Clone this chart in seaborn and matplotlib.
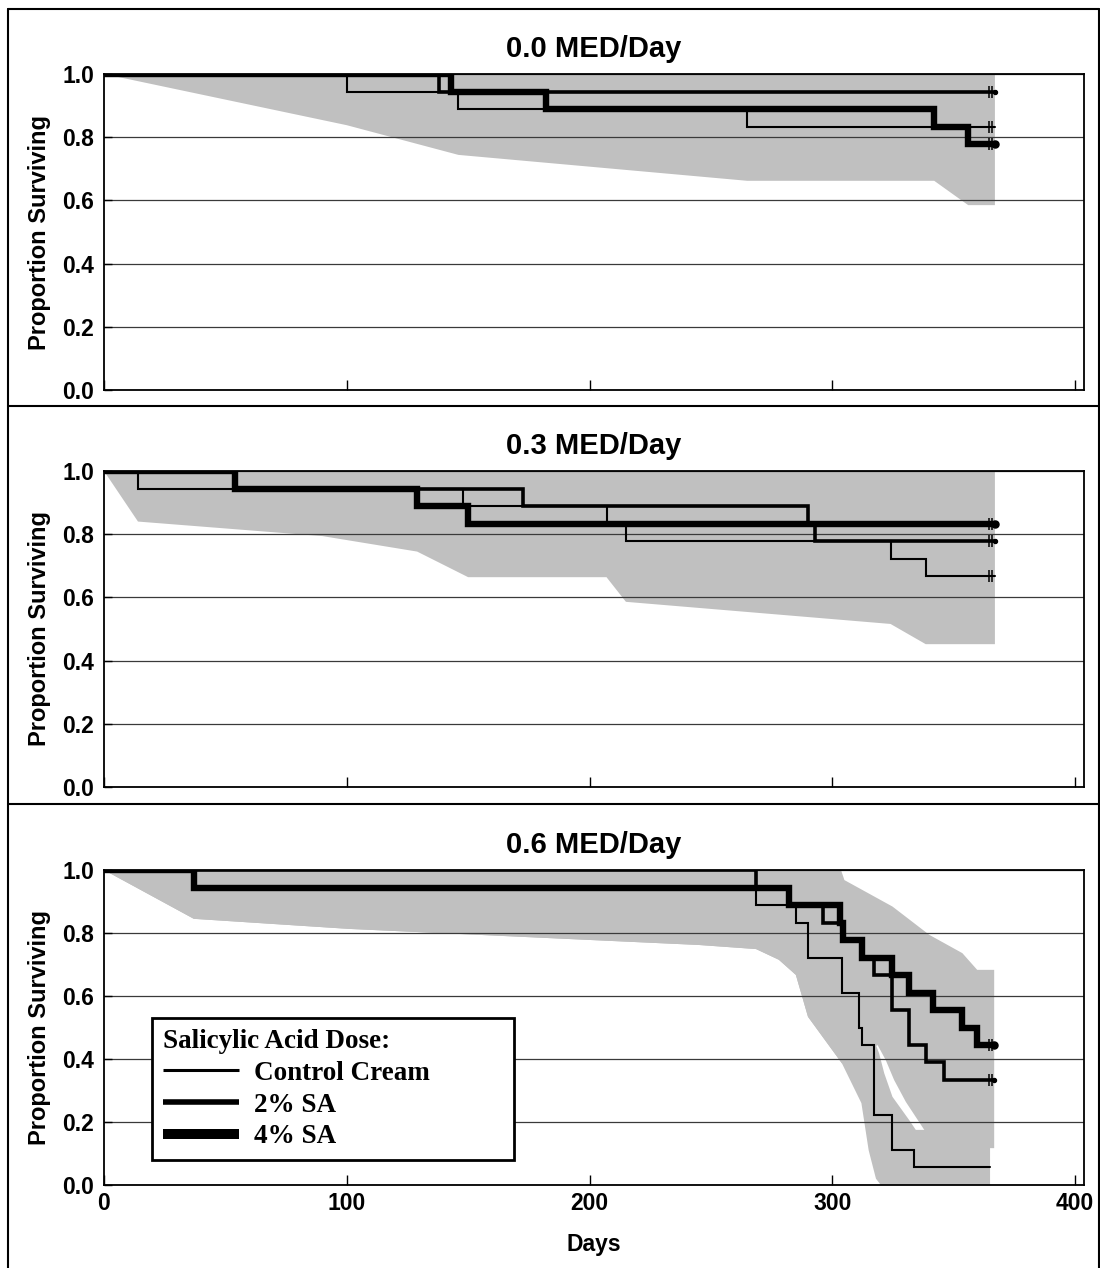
import numpy as np
import pandas as pd
import matplotlib
matplotlib.use("Agg")
import matplotlib.pyplot as plt
import seaborn as sns
from matplotlib.lines import Line2D

# ------------------------------------------------------------------ data
panel_titles = ["0.0 MED/Day", "0.3 MED/Day", "0.6 MED/Day"]
group_names = ["Control Cream", "2% SA", "4% SA"]
x_ticks = [0, 100, 200, 300, 400]
y_ticks = [0.0, 0.2, 0.4, 0.6, 0.8, 1.0]

# Kaplan-Meier step curves (day of step, survival after step)
p1_ctrl_days = [0, 100, 146, 265, 367]
p1_ctrl_surv = [1.0, 0.944, 0.889, 0.833, 0.833]
p1_sa2_days = [0, 138, 367]
p1_sa2_surv = [1.0, 0.944, 0.944]
p1_sa4_days = [0, 143, 182, 342, 356, 367]
p1_sa4_surv = [1.0, 0.944, 0.889, 0.833, 0.778, 0.778]

p2_ctrl_days = [0, 14, 148, 207, 215, 324, 338.5, 367]
p2_ctrl_surv = [1.0, 0.944, 0.889, 0.833, 0.778, 0.722, 0.667, 0.667]
p2_sa2_days = [0, 54, 172.5, 290, 293, 367]
p2_sa2_surv = [1.0, 0.944, 0.889, 0.833, 0.778, 0.778]
p2_sa4_days = [0, 54, 129, 150, 367]
p2_sa4_surv = [1.0, 0.944, 0.889, 0.833, 0.833]

p3_ctrl_days = [0, 268.6, 285, 290, 304, 311, 312.4, 317.3, 324.8, 333.7, 365]
p3_ctrl_surv = [1.0, 0.889, 0.833, 0.722, 0.611, 0.5, 0.444, 0.222, 0.111, 0.056, 0.056]
p3_sa2_days = [0, 268.6, 282, 296, 304.5, 312.4, 317.3, 324.8, 331.7, 338.5, 346, 366.6]
p3_sa2_surv = [1.0, 0.944, 0.889, 0.833, 0.778, 0.722, 0.667, 0.556, 0.444, 0.389, 0.333, 0.333]
p3_sa4_days = [0, 37, 282, 303, 304.5, 312.4, 324.8, 331.7, 341.3, 353.6, 359.7, 366.6]
p3_sa4_surv = [1.0, 0.944, 0.889, 0.833, 0.778, 0.722, 0.667, 0.611, 0.556, 0.5, 0.444, 0.444]

# censoring ticks near the end of follow-up
censor_days = [364.6, 366.0]

# confidence bands (lower edge / upper edge polylines)
p1_band_low_days = [0, 100, 146, 265, 342, 356, 367]
p1_band_low = [1.0, 0.838, 0.744, 0.662, 0.662, 0.585, 0.585]
p1_band_up_days = [0, 367]
p1_band_up = [1.0, 1.0]

p2_band_low_days = [0, 14, 90, 129, 150, 207, 215, 324, 338.5, 367]
p2_band_low = [1.0, 0.84, 0.794, 0.745, 0.664, 0.664, 0.586, 0.516, 0.452, 0.452]
p2_band_up_days = [0, 367]
p2_band_up = [1.0, 1.0]

p3a_band_low_days = [0, 37, 101, 245, 268.6, 278, 285, 290, 304, 312, 315, 318, 320, 365]
p3a_band_low = [1.0, 0.845, 0.813, 0.762, 0.749, 0.715, 0.667, 0.534, 0.386, 0.26, 0.11, 0.02, 0.0, 0.0]
p3a_band_up_days = [0, 300, 318, 319.3, 321.4, 324.8, 331.7, 334.4, 365]
p3a_band_up = [1.0, 1.0, 0.444, 0.418, 0.355, 0.28, 0.206, 0.175, 0.175]

p3b_band_low_days = [0, 37, 101, 245, 268.6, 278, 285, 290, 304, 318.7, 322, 325.5, 330.3, 337.9, 338, 366.7]
p3b_band_low = [1.0, 0.845, 0.813, 0.762, 0.749, 0.715, 0.667, 0.534, 0.386, 0.444, 0.397, 0.333, 0.264, 0.175, 0.117, 0.117]
p3b_band_up_days = [0, 303.6, 305, 324.8, 340, 353.6, 359.7, 366.7]
p3b_band_up = [1.0, 1.0, 0.968, 0.884, 0.794, 0.736, 0.683, 0.683]

curves = [
    [(p1_ctrl_days, p1_ctrl_surv, True), (p1_sa2_days, p1_sa2_surv, True), (p1_sa4_days, p1_sa4_surv, True)],
    [(p2_ctrl_days, p2_ctrl_surv, True), (p2_sa2_days, p2_sa2_surv, True), (p2_sa4_days, p2_sa4_surv, True)],
    [(p3_ctrl_days, p3_ctrl_surv, False), (p3_sa2_days, p3_sa2_surv, True), (p3_sa4_days, p3_sa4_surv, True)],
]
bands = [
    [(p1_band_low_days, p1_band_low, p1_band_up_days, p1_band_up)],
    [(p2_band_low_days, p2_band_low, p2_band_up_days, p2_band_up)],
    [(p3a_band_low_days, p3a_band_low, p3a_band_up_days, p3a_band_up),
     (p3b_band_low_days, p3b_band_low, p3b_band_up_days, p3b_band_up)],
]

# ------------------------------------------------------------------ style
sns.set_theme(style="white")
plt.rcParams["font.family"] = ["Liberation Sans", "DejaVu Sans"]
plt.rcParams["font.weight"] = "bold"
plt.rcParams["axes.titleweight"] = "bold"
plt.rcParams["axes.labelweight"] = "bold"
plt.rcParams["text.color"] = "black"
plt.rcParams["axes.labelcolor"] = "black"
plt.rcParams["xtick.color"] = "black"
plt.rcParams["ytick.color"] = "black"

line_widths = [1.5, 2.6, 4.6]       # control, 2%, 4%
legend_widths = [2.2, 4.0, 7.2]
band_color = "#c0c0c0"

W, H = 1100, 1268
fig = plt.figure(figsize=(W / 100, H / 100), dpi=100)

ax_left, ax_right = 104, 1084
panel_px = [(74, 390), (471, 787), (870, 1185)]

for i, (top, bot) in enumerate(panel_px):
    ax = fig.add_axes([ax_left / W, 1 - bot / H, (ax_right - ax_left) / W, (bot - top) / H])
    ax.set_axisbelow(True)

    for (ld, lv, ud, uv) in bands[i]:
        xs = np.r_[np.array(ld, float), np.array(ud, float)[::-1]]
        ys = np.r_[np.array(lv, float), np.array(uv, float)[::-1]]
        ax.fill(xs, ys, color=band_color, lw=0, zorder=0.3)

    # draw thick first so thinner lines remain visible on top
    for g in [2, 1, 0]:
        days, surv, censored = curves[i][g]
        df = pd.DataFrame({"Days": days, "Surv": surv})
        sns.lineplot(data=df, x="Days", y="Surv", ax=ax, color="black",
                     linewidth=line_widths[g], drawstyle="steps-post",
                     estimator=None, sort=False, legend=False,
                     solid_joinstyle="miter", zorder=3)
        if g > 0:
            ax.plot([days[-1]], [surv[-1]], "o", color="black",
                    ms=line_widths[g] * 1.1, zorder=3)
        if censored:
            ax.plot(censor_days, [surv[-1]] * len(censor_days), "|",
                    color="black", ms=9, mew=1.1, zorder=3)

    ax.set_xlim(0, 403.7)
    ax.set_ylim(0, 1.0)
    ax.set_xticks(x_ticks)
    ax.set_yticks(y_ticks)
    ax.set_yticklabels([f"{v:.1f}" for v in y_ticks])
    ax.yaxis.grid(True, color="#3a3a3a", lw=0.9)
    ax.xaxis.grid(False)
    for s in ax.spines.values():
        s.set_color("black")
        s.set_linewidth(1.3)
    ax.tick_params(axis="x", direction="in", length=7, width=1, colors="black",
                   labelsize=16.5, pad=5, bottom=True)
    ax.tick_params(axis="y", direction="in", length=6, width=1, colors="black",
                   labelsize=16.5, pad=7, left=True)
    for lab in ax.get_xticklabels() + ax.get_yticklabels():
        lab.set_fontweight("bold")
    ax.set_title(panel_titles[i], fontsize=21, fontweight="bold", pad=12, color="black")
    ax.set_ylabel("Proportion Surviving", fontsize=17, fontweight="bold", labelpad=8)
    if i < 2:
        ax.set_xlabel("")
        ax.set_xticklabels([])
    else:
        ax.set_xlabel("Days", fontsize=16.5, fontweight="bold", labelpad=13)
        handles = [Line2D([0], [0], color="black", lw=legend_widths[k],
                          solid_capstyle="butt") for k in range(3)]
        leg = ax.legend(handles, group_names, title="Salicylic Acid Dose:",
                        loc="lower left", bbox_to_anchor=(0.049, 0.079, 0.369, 0.47),
                        mode="expand", alignment="left", frameon=True,
                        fancybox=False, edgecolor="black", framealpha=1,
                        handlelength=2.8, handletextpad=0.55, borderpad=0.4,
                        labelspacing=0.25, borderaxespad=0,
                        prop={"family": "Liberation Serif", "weight": "bold", "size": 19.5},
                        title_fontproperties={"family": "Liberation Serif", "weight": "bold", "size": 19.5})
        leg.get_frame().set_linewidth(2.0)
        leg.set_zorder(5)

# figure border and panel separators
def fline(x0, y0, x1, y1):
    fig.add_artist(Line2D([x0 / W, x1 / W], [1 - y0 / H, 1 - y1 / H],
                          color="black", lw=1.5, transform=fig.transFigure))

fline(8, 9, 1099, 9)
fline(8, 9, 8, 1268)
fline(1099, 9, 1099, 1268)
fline(8, 406, 1099, 406)
fline(8, 804, 1099, 804)

fig.savefig("out.png", dpi=100)
